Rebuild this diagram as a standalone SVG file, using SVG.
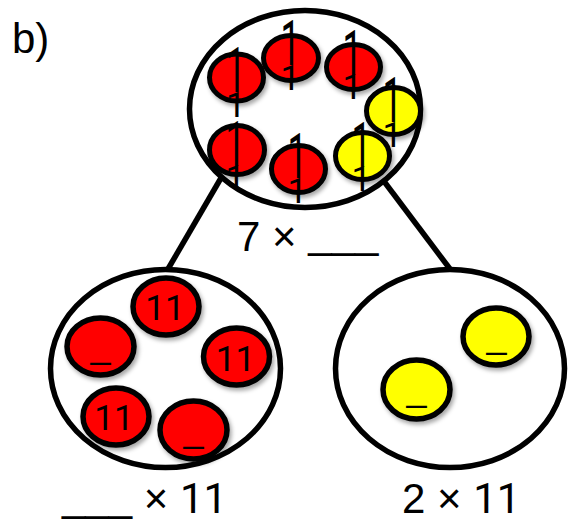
<svg xmlns="http://www.w3.org/2000/svg" width="571" height="520" viewBox="0 0 571 520">
<defs>
<filter id="sh" x="-30%" y="-30%" width="160%" height="160%">
<feDropShadow dx="2" dy="3" stdDeviation="2" flood-color="#000" flood-opacity="0.35"/>
</filter>
</defs>
<style>
.big{fill:#fff;stroke:#000;stroke-width:5.5}
.conn{stroke:#000;stroke-width:5.5;stroke-linecap:butt;fill:none}
.r{fill:#FF0000;stroke:#000;stroke-width:5}
.y{fill:#FFFF00;stroke:#000;stroke-width:5}
.rb{fill:#FF0000;stroke:#000;stroke-width:5.5}
.yb{fill:#FFFF00;stroke:#000;stroke-width:5.5}
.one{font-family:Roboto,"Liberation Sans",sans-serif;font-size:35px;fill:#000}
.lbl{font-family:"Liberation Sans",Arial,sans-serif;font-size:42px;fill:#000}
.dg{font-family:Roboto,"Liberation Sans",sans-serif}
.in{font-family:Roboto,"Liberation Sans",sans-serif;font-size:35px;fill:#000;text-anchor:middle}
.us{font-family:"Liberation Sans",Arial,sans-serif;font-size:36px;fill:#000;text-anchor:middle}
</style>
<rect width="571" height="520" fill="#fff"/>
<text class="lbl" x="12" y="53" font-size="40">b)</text>
<g id="connectors">
<line class="conn" x1="221" y1="178" x2="168" y2="269"/>
<line class="conn" x1="383" y1="180" x2="450" y2="269"/>
</g>
<g id="top">
<ellipse class="big" cx="305" cy="109" rx="115.5" ry="98.5"/>
<g id="t1"><ellipse class="r" filter="url(#sh)" cx="236.5" cy="77.5" rx="27" ry="23.5"/>
<text class="one" transform="translate(226,92) scale(1,1.8)">1</text><text class="one" x="226" y="117">1</text></g>
<g id="t2"><ellipse class="r" filter="url(#sh)" cx="291" cy="58" rx="27.5" ry="22.5"/>
<text class="one" transform="translate(280.5,65) scale(1,1.8)">1</text><text class="one" x="280.5" y="90">1</text></g>
<g id="t3"><ellipse class="r" filter="url(#sh)" cx="353.5" cy="67" rx="27" ry="22.5"/>
<text class="one" transform="translate(342.5,75) scale(1,1.8)">1</text><text class="one" x="342.5" y="99">1</text></g>
<g id="t4"><ellipse class="y" filter="url(#sh)" cx="393.5" cy="111" rx="27" ry="23.5"/>
<text class="one" transform="translate(382.5,122) scale(1,1.8)">1</text><text class="one" x="382.5" y="147">1</text></g>
<g id="t5"><ellipse class="r" filter="url(#sh)" cx="237" cy="150" rx="27.5" ry="24.5"/>
<text class="one" transform="translate(225.5,166) scale(1,1.8)">1</text><text class="one" x="225.5" y="190">1</text></g>
<g id="t6"><ellipse class="r" filter="url(#sh)" cx="298.5" cy="169" rx="27" ry="23.5"/>
<text class="one" transform="translate(287.5,178) scale(1,1.8)">1</text><text class="one" x="287.5" y="203">1</text></g>
<g id="t7"><ellipse class="y" filter="url(#sh)" cx="362.5" cy="156" rx="27" ry="23.5"/>
<text class="one" transform="translate(351.5,167) scale(1,1.8)">1</text><text class="one" x="351.5" y="191">1</text></g>
<text class="lbl" x="237" y="251">7 × <tspan dy="-3">___</tspan></text>
</g>
<g id="left">
<ellipse class="big" cx="165.5" cy="368.5" rx="115" ry="99"/>
<g id="l1"><ellipse class="rb" filter="url(#sh)" cx="166" cy="306.5" rx="33" ry="28.5"/><text class="in" x="165" y="320">11</text></g>
<g id="l2"><ellipse class="rb" filter="url(#sh)" cx="100.5" cy="346.5" rx="33.5" ry="28.5"/><text class="us" x="100.5" y="358">_</text></g>
<g id="l3"><ellipse class="rb" filter="url(#sh)" cx="236.5" cy="356.5" rx="33" ry="28.5"/><text class="in" x="235.5" y="371">11</text></g>
<g id="l4"><ellipse class="rb" filter="url(#sh)" cx="116" cy="416.5" rx="33" ry="28.5"/><text class="in" x="114" y="430">11</text></g>
<g id="l5"><ellipse class="rb" filter="url(#sh)" cx="193.5" cy="430" rx="33.5" ry="29"/><text class="us" x="193.5" y="441.5">_</text></g>
<text class="lbl" x="62" y="513"><tspan dy="-2">___</tspan><tspan dy="2"> × </tspan><tspan class="dg">11</tspan></text>
</g>
<g id="right">
<ellipse class="big" cx="450" cy="368.5" rx="114.5" ry="99"/>
<g id="r1"><ellipse class="yb" filter="url(#sh)" cx="496" cy="336.5" rx="33" ry="28.5"/><text class="us" x="496.5" y="348">_</text></g>
<g id="r2"><ellipse class="yb" filter="url(#sh)" cx="416.5" cy="389.5" rx="33.5" ry="29.5"/><text class="us" x="416.5" y="401">_</text></g>
<text class="lbl" x="402" y="513">2 × <tspan class="dg">11</tspan></text>
</g>
</svg>
